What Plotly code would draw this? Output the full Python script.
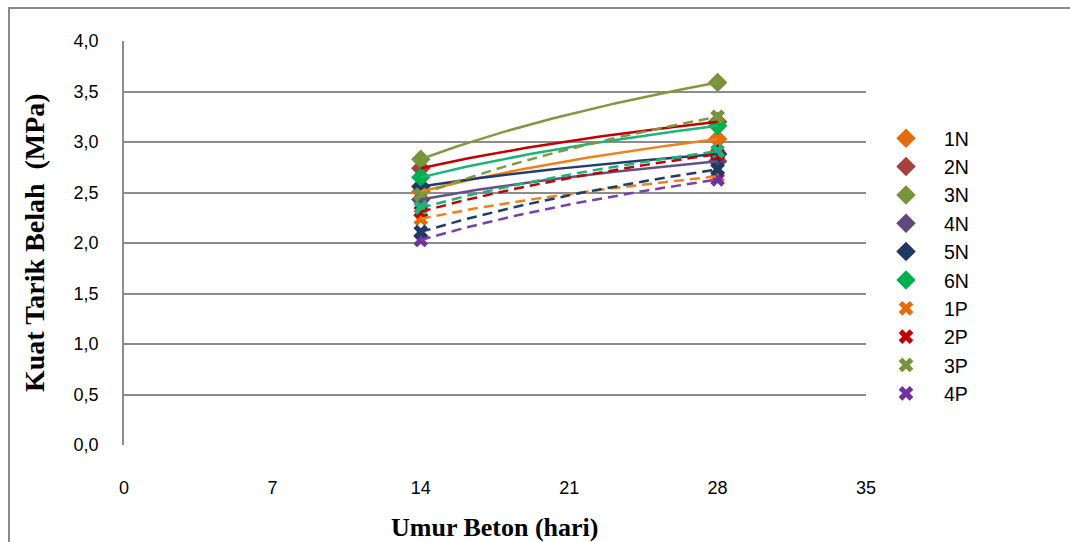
import numpy as np
import plotly.graph_objects as go

# Concrete age (days) at testing
days = [14, 28]

# Split tensile strength (MPa), normal-cured specimens
n_1 = [2.51, 3.03]
n_2 = [2.74, 3.20]
n_3 = [2.83, 3.59]
n_4 = [2.43, 2.81]
n_5 = [2.56, 2.88]
n_6 = [2.65, 3.16]

# Split tensile strength (MPa), P specimens
p_1 = [2.24, 2.66]
p_2 = [2.31, 2.88]
p_3 = [2.48, 3.25]
p_4 = [2.03, 2.63]
p_5 = [2.11, 2.73]
p_6 = [2.35, 2.91]

x_ticks = [0, 7, 14, 21, 28, 35]
y_ticks = [0.0, 0.5, 1.0, 1.5, 2.0, 2.5, 3.0, 3.5, 4.0]

# name, values, marker symbol, marker colour, trendline colour, dash, in legend
series = [
    ("1N", n_1, "diamond", "#E46C0A", "#F0801A", "solid", True),
    ("2N", n_2, "diamond", "#A5403D", "#C00000", "solid", True),
    ("3N", n_3, "diamond", "#77933C", "#7F9A3E", "solid", True),
    ("4N", n_4, "diamond", "#604A7B", "#655086", "solid", True),
    ("5N", n_5, "diamond", "#1F3864", "#203D6B", "solid", True),
    ("6N", n_6, "diamond", "#00B050", "#1DB47A", "solid", True),
    ("1P", p_1, "x", "#E46C0A", "#F0801A", "10px,6px", True),
    ("2P", p_2, "x", "#C00000", "#C00000", "10px,6px", True),
    ("3P", p_3, "x", "#77933C", "#7F9A3E", "10px,6px", True),
    ("4P", p_4, "x", "#7030A0", "#7A3FB0", "10px,6px", True),
    ("5P", p_5, "x", "#1F3864", "#203D6B", "10px,6px", False),
    ("6P", p_6, "x", "#1DB47A", "#1DB47A", "10px,6px", False),
]


def log_trend(xs, ys, n=60):
    """Logarithmic trendline y = a + b*ln(x) fitted to the points."""
    b, a = np.polyfit(np.log(xs), ys, 1)
    xt = np.linspace(min(xs), max(xs), n)
    return xt, a + b * np.log(xt)


fig = go.Figure()

for name, vals, sym, mcol, lcol, dash, show in series:
    fig.add_trace(go.Scatter(
        x=days, y=vals, mode="markers", name=name, showlegend=show,
        marker=dict(symbol=sym, size=15 if sym == "diamond" else 13,
                    color=mcol, line=dict(width=0)),
    ))

for name, vals, sym, mcol, lcol, dash, show in series:
    xt, yt = log_trend(days, vals)
    fig.add_trace(go.Scatter(
        x=xt, y=yt, mode="lines", showlegend=False, hoverinfo="skip",
        line=dict(color=lcol, width=2.5, dash=dash),
    ))

PL, PR, PT, PB = 124, 866, 41, 445
W, H = 1070, 542
pw, ph = PR - PL, PB - PT


def px_x(v):
    return (v - PL) / pw


def px_y(v):
    return (PB - v) / ph


fig.update_layout(
    width=W, height=H,
    margin=dict(l=PL, r=W - PR, t=PT, b=H - PB),
    paper_bgcolor="white", plot_bgcolor="white",
    separators=", ",
    font=dict(family="Liberation Sans, Arial, sans-serif", color="#000000"),
    xaxis=dict(
        range=[0, 35], tickvals=x_ticks, ticktext=[str(t) for t in x_ticks],
        showgrid=False, zeroline=False, showline=False, ticks="",
        ticklabelstandoff=30, tickfont=dict(size=18),
    ),
    yaxis=dict(
        range=[0, 4], tickvals=y_ticks, tickformat=".1f",
        showgrid=True, gridcolor="#8C8C8C", gridwidth=1.5,
        zeroline=False, showline=True, linecolor="#8C8C8C", linewidth=1.5,
        ticks="", ticklabelstandoff=20, tickfont=dict(size=18),
    ),
    legend=dict(
        x=px_x(868), xanchor="left", y=px_y(119), yanchor="top",
        font=dict(size=19.5), bgcolor="rgba(0,0,0,0)", borderwidth=0,
        itemwidth=66,
    ),
    showlegend=True,
    annotations=[
        dict(text="<b>Umur Beton (hari)</b>", xref="paper", yref="paper",
             x=px_x(495), y=px_y(527), xanchor="center", yanchor="middle",
             showarrow=False,
             font=dict(family="Liberation Serif, Times New Roman, serif", size=26)),
        dict(text="<b>Kuat Tarik Belah  (MPa)</b>", xref="paper", yref="paper",
             x=px_x(34), y=px_y(243), xanchor="center", yanchor="middle",
             textangle=-90, showarrow=False,
             font=dict(family="Liberation Serif, Times New Roman, serif", size=28)),
    ],
    shapes=[
        dict(type="rect", xref="paper", yref="paper",
             x0=px_x(9), x1=px_x(1080), y0=px_y(560), y1=px_y(8),
             line=dict(color="#8A8A8A", width=2), fillcolor="rgba(0,0,0,0)",
             layer="below"),
    ],
)

fig.write_html("out.html")
